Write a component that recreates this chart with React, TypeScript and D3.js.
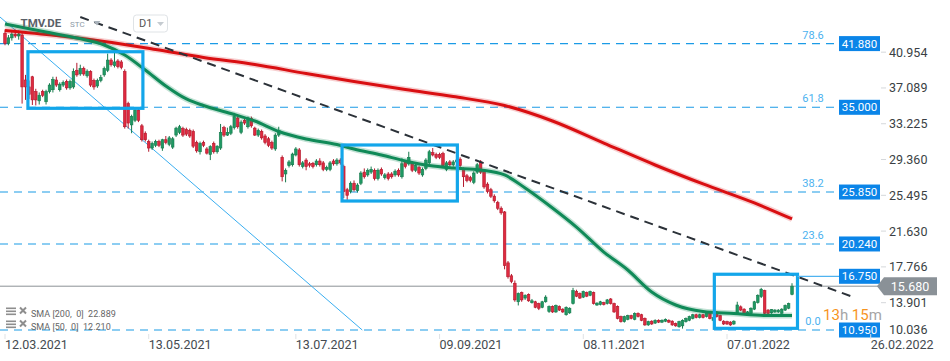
import * as d3 from "d3";

// daily candles TMV.DE, [open, high, low, close], from 12.03.2021
const ohlc: [number, number, number, number][] = [
  [43.0, 43.4, 41.7, 41.9], [41.9, 42.8, 41.7, 42.5], [42.5, 43.2, 42.2, 42.9], [42.9, 43.4, 42.5, 42.7],
  [42.7, 43.3, 42.3, 42.9], [42.8, 43.0, 35.4, 37.2], [37.95, 38.5, 35.8, 37.2], [37.2, 37.9, 35.9, 36.4],
  [38.3, 38.4, 35.25, 35.8], [36.7, 37.0, 35.2, 35.8], [35.7, 36.6, 35.3, 36.3], [36.7, 36.9, 36.1, 36.3],
  [35.6, 36.9, 35.3, 36.7], [36.7, 37.6, 36.5, 37.4], [36.9, 38.3, 36.6, 38.0], [37.95, 38.3, 37.2, 37.4],
  [36.9, 37.7, 36.7, 37.5], [37.4, 37.9, 37.2, 37.7], [37.8, 38.0, 36.9, 37.1], [37.1, 38.0, 36.9, 37.8],
  [37.2, 39.2, 37.0, 38.85], [39.0, 39.8, 38.3, 38.5], [38.6, 39.6, 38.4, 39.2], [39.2, 39.4, 38.4, 38.6],
  [38.4, 39.1, 38.2, 38.9], [38.85, 39.0, 37.2, 37.4], [37.9, 38.1, 36.9, 37.2], [37.3, 38.1, 37.1, 37.9],
  [37.9, 38.5, 37.7, 38.2], [38.5, 39.4, 38.3, 39.2], [39.0, 40.8, 38.8, 40.1], [40.1, 40.3, 39.4, 39.6],
  [39.5, 40.9, 39.3, 39.9], [40.0, 40.2, 39.2, 39.4], [39.9, 40.1, 39.1, 39.3], [38.85, 39.1, 32.7, 32.9],
  [35.4, 35.6, 32.7, 33.3], [33.1, 34.2, 32.2, 34.0], [33.6, 34.9, 33.4, 34.7], [34.7, 34.9, 33.4, 33.6],
  [33.0, 33.2, 31.3, 31.5], [32.2, 32.4, 31.3, 31.5], [31.3, 31.5, 30.2, 30.6], [30.6, 31.3, 30.4, 31.1],
  [30.9, 31.5, 30.7, 31.3], [31.3, 31.5, 30.7, 30.9], [30.6, 31.6, 30.3, 31.5], [31.5, 31.9, 31.0, 31.2],
  [31.0, 31.9, 30.8, 31.7], [30.7, 31.8, 30.5, 31.6], [32.0, 32.9, 31.8, 32.75], [32.3, 33.1, 32.1, 32.9],
  [32.7, 32.9, 31.8, 32.0], [32.6, 32.8, 31.9, 32.1], [32.5, 32.7, 31.7, 31.9], [32.4, 32.6, 30.6, 30.8],
  [31.2, 31.4, 30.1, 30.3], [30.2, 31.3, 29.9, 31.1], [31.2, 31.4, 30.7, 30.9], [30.5, 30.7, 29.9, 30.05],
  [29.9, 30.9, 29.3, 30.75], [31.1, 31.3, 30.0, 30.2], [30.2, 30.9, 30.0, 30.8], [30.6, 33.2, 30.4, 32.3],
  [32.8, 33.0, 31.8, 32.0], [32.0, 32.8, 31.9, 32.3], [32.2, 33.1, 32.0, 32.9], [32.8, 34.4, 32.6, 34.0],
  [33.85, 34.0, 32.7, 32.9], [32.3, 33.6, 32.1, 33.4], [33.6, 33.8, 33.1, 33.3], [32.9, 34.0, 32.7, 33.85],
  [33.8, 34.0, 32.8, 33.0], [32.75, 32.9, 31.9, 32.0], [32.0, 32.7, 31.8, 32.5], [32.4, 32.6, 31.5, 31.7],
  [31.9, 32.1, 31.0, 31.2], [31.6, 31.8, 30.7, 30.9], [31.2, 31.4, 30.4, 30.6], [30.5, 32.2, 30.3, 32.0],
  [32.0, 32.9, 31.8, 32.5], [29.6, 29.8, 27.0, 27.5], [27.8, 28.4, 26.9, 28.2], [28.7, 29.3, 28.5, 29.1],
  [28.8, 30.1, 28.6, 29.95], [29.85, 30.7, 29.7, 30.5], [30.4, 30.6, 28.6, 28.8], [28.6, 29.2, 28.4, 29.0],
  [29.3, 29.5, 28.2, 28.6], [28.9, 29.1, 28.5, 28.75], [28.95, 29.1, 28.4, 28.6], [28.8, 29.4, 28.6, 29.2],
  [29.2, 29.5, 28.6, 28.8], [29.0, 29.2, 28.1, 28.3], [28.3, 28.7, 28.1, 28.5], [28.3, 29.2, 28.1, 29.0],
  [29.2, 29.4, 28.7, 28.9], [28.9, 29.5, 28.7, 29.3], [29.3, 29.5, 28.8, 29.0], [28.6, 28.8, 25.2, 25.9],
  [26.1, 26.3, 25.0, 25.5], [25.9, 27.0, 25.7, 26.8], [26.8, 27.1, 25.9, 26.1], [26.0, 26.8, 25.8, 26.6],
  [26.8, 28.1, 26.6, 27.9], [28.0, 28.4, 27.3, 27.5], [27.7, 28.4, 27.5, 28.2], [28.0, 28.6, 27.8, 28.3],
  [28.2, 28.4, 27.1, 27.3], [27.3, 28.4, 27.1, 28.2], [28.3, 28.5, 27.6, 27.8], [27.4, 27.9, 27.2, 27.7],
  [27.8, 28.0, 27.1, 27.3], [27.8, 28.0, 27.3, 27.5], [27.7, 28.3, 27.5, 28.1], [28.2, 28.4, 27.5, 27.7],
  [27.5, 29.5, 27.3, 28.9], [29.1, 29.3, 28.4, 28.6], [28.9, 30.2, 28.7, 29.6], [29.0, 29.2, 28.0, 28.2],
  [28.2, 28.9, 28.0, 28.7], [28.5, 28.7, 27.7, 27.9], [27.7, 28.5, 27.5, 28.3], [28.4, 29.5, 28.2, 29.3],
  [29.0, 30.4, 28.8, 30.2], [30.1, 30.6, 29.7, 29.85], [29.9, 30.1, 29.4, 29.6], [29.9, 30.1, 29.4, 29.6],
  [30.0, 30.2, 28.5, 28.7], [28.3, 29.2, 28.1, 29.0], [29.1, 29.3, 28.6, 28.8], [28.8, 29.3, 28.6, 29.1],
  [29.1, 29.5, 28.9, 29.3], [29.4, 29.6, 28.5, 28.7], [28.3, 28.5, 26.4, 27.5], [27.6, 27.8, 26.9, 27.1],
  [27.4, 27.6, 26.9, 27.1], [26.9, 28.1, 26.7, 27.9], [28.0, 29.0, 27.8, 28.8], [29.1, 29.3, 27.8, 28.0],
  [28.05, 28.2, 26.2, 26.4], [26.7, 26.9, 25.7, 25.9], [26.1, 26.3, 25.2, 25.4], [25.4, 25.6, 24.7, 24.9],
  [24.7, 24.9, 23.9, 24.1], [24.1, 24.3, 23.4, 23.6], [23.7, 23.8, 17.5, 17.9], [18.2, 18.4, 16.5, 16.7],
  [16.8, 17.0, 16.0, 16.2], [16.0, 16.3, 14.0, 14.2], [14.0, 15.0, 13.6, 14.9], [15.0, 15.1, 14.0, 14.2],
  [14.4, 14.8, 14.2, 14.7], [14.8, 14.9, 14.0, 14.1], [13.9, 14.3, 13.8, 14.1], [14.0, 14.1, 13.3, 13.4],
  [13.8, 13.9, 13.1, 13.3], [13.4, 14.1, 13.3, 14.0], [14.0, 14.7, 13.9, 14.5], [12.95, 13.6, 12.8, 13.5],
  [13.5, 13.6, 12.8, 12.9], [12.9, 13.7, 12.8, 13.6], [13.5, 13.6, 13.0, 13.1], [13.2, 13.3, 12.8, 12.9],
  [12.6, 13.5, 12.5, 13.4], [12.8, 13.4, 12.7, 13.3], [13.8, 15.5, 13.7, 15.2], [15.1, 15.3, 14.5, 14.6],
  [14.9, 15.0, 14.3, 14.4], [14.5, 15.2, 14.4, 15.1], [15.0, 15.1, 14.5, 14.6], [14.7, 15.2, 14.6, 15.1],
  [15.0, 15.1, 13.7, 13.8], [13.65, 13.95, 13.55, 13.85], [13.7, 14.1, 13.6, 14.0], [13.9, 14.0, 13.6, 13.7],
  [13.8, 14.3, 13.7, 14.2], [14.3, 14.4, 13.7, 13.8], [13.8, 13.9, 12.8, 12.9], [13.5, 13.6, 12.1, 12.2],
  [12.4, 12.5, 11.75, 11.85], [11.85, 12.5, 11.75, 12.4], [12.1, 12.6, 12.0, 12.5], [12.5, 12.6, 12.1, 12.2],
  [12.1, 12.85, 12.0, 12.75], [12.75, 12.85, 12.3, 12.4], [12.6, 12.7, 11.9, 12.0], [12.2, 12.3, 11.4, 11.5],
  [11.5, 11.95, 11.4, 11.85], [11.9, 12.0, 11.5, 11.6], [11.7, 12.1, 11.6, 12.0], [12.0, 12.1, 11.7, 11.8],
  [11.8, 12.1, 11.7, 12.0], [11.9, 12.2, 11.8, 12.1], [12.0, 12.1, 11.7, 11.8], [11.9, 12.0, 11.4, 11.5],
  [11.65, 11.75, 11.3, 11.4], [11.3, 11.95, 11.2, 11.85], [11.4, 12.1, 11.1, 12.0], [11.85, 12.3, 11.75, 12.2],
  [12.0, 12.5, 11.9, 12.4], [12.2, 12.7, 12.1, 12.6], [12.6, 12.7, 12.2, 12.3], [12.3, 12.7, 12.2, 12.6],
  [12.6, 12.7, 12.2, 12.3], [12.4, 13.0, 12.3, 12.9], [12.8, 12.9, 12.1, 12.2], [12.0, 12.4, 11.9, 12.3],
  [12.9, 13.0, 12.3, 12.4], [12.5, 12.6, 11.9, 12.0], [11.9, 12.0, 11.5, 11.6], [11.85, 11.95, 11.5, 11.6],
  [11.8, 11.9, 11.4, 11.5], [11.6, 12.0, 11.5, 11.9], [12.8, 14.0, 12.7, 13.65], [13.45, 13.6, 13.0, 13.1],
  [13.2, 13.3, 12.6, 12.7], [12.6, 13.0, 12.5, 12.9], [12.75, 13.4, 12.6, 13.3], [13.2, 14.1, 13.1, 14.0],
  [13.9, 14.8, 13.8, 14.7], [14.55, 15.5, 14.4, 15.35], [15.2, 15.3, 12.6, 12.75], [13.1, 13.2, 12.6, 12.75],
  [12.8, 13.2, 12.7, 13.15], [12.9, 13.2, 12.8, 13.1], [12.9, 13.2, 12.8, 13.1], [12.75, 13.3, 12.7, 13.2],
  [13.1, 13.7, 13.0, 13.6], [13.3, 13.9, 13.2, 13.8], [14.8, 16.0, 14.7, 15.68],
];

// moving averages: [bar, value]
const sma200: [number, number][] = [
  [0, 43.3], [15, 42.75], [29, 42.11], [44, 41.24], [58, 40.38], [73, 39.62], [88, 38.65],
  [102, 37.79], [117, 36.92], [131, 36.17], [146, 35.19], [160, 33.52], [175, 31.14],
  [190, 28.77], [204, 26.72], [219, 24.67], [230, 22.94],
];
const sma50: [number, number][] = [
  [0, 43.99], [12, 43.13], [21, 42.48], [29, 41.73], [35, 40.65], [41, 39.03], [47, 37.3],
  [53, 35.9], [58, 35.19], [66, 34.33], [73, 33.52], [80, 32.39], [88, 31.58], [97, 30.98],
  [102, 30.5], [110, 29.85], [117, 29.2], [124, 28.71], [131, 28.44], [139, 28.23], [146, 27.69],
  [152, 26.29], [160, 24.13], [167, 22.07], [175, 19.37], [182, 17.43], [189, 15.05], [196, 13.65],
  [204, 12.95], [213, 12.73], [222, 12.52], [230, 12.52],
];

const dateTicks = ["12.03.2021", "13.05.2021", "13.07.2021", "09.09.2021", "08.11.2021", "07.01.2022", "26.02.2022"];
const dateTickBars = [0, 42, 85, 127, 169, 211, 253];
const priceTicks = [40.954, 37.089, 33.225, 29.36, 25.495, 21.63, 17.766, 13.901, 10.036];

const fibRatios = ["78.6", "61.8", "38.2", "23.6", "0.0"];
const fibPrices = [41.88, 35.0, 25.85, 20.24, 10.95];
const levelPrices = [41.88, 35.0, 25.85, 20.24, 16.75, 10.95];
const lastPrice = 15.68;

// drawn rectangles [bar0, bar1, priceTop, priceBottom]
const zones: [number, number, number, number][] = [
  [6.7, 40.3, 41.0, 34.89],
  [98.5, 132.2, 30.93, 24.88],
  [207.3, 231.6, 16.97, 11.13],
];
const trendDashed: [number, number][] = [[22, 44.75], [248, 14.5]];
const trendBlue: [number, number][] = [[-1.46, 44.75], [104.4, 10.95]];
const legend = ["SMA [200,  0]  22.889", "SMA [50,  0]  12.210"];

const font = "Roboto, 'Noto Sans', sans-serif";

export default function App() {
  const x = d3.scaleLinear().domain([0, 211]).range([5, 727]);
  const y = d3.scaleLinear().domain([10.95, 35]).range([330, 107.3]);
  const bw = 2.6;

  const line = d3
    .line<[number, number]>()
    .x((d) => x(d[0]))
    .y((d) => y(d[1]))
    .curve(d3.curveMonotoneX);

  const up = { fill: "#1f9963", stroke: "#167a4d" };
  const down = { fill: "#df2a40", stroke: "#b3182c" };
  const lastY = y(lastPrice);

  return (
    <svg
      width={950}
      height={361}
      style={{ position: "absolute", left: 0, top: 0, background: "#fff" }}
      fontFamily={font}
    >
      <defs>
        <clipPath id="plot">
          <rect x={0} y={0} width={880} height={334} />
        </clipPath>
      </defs>

      {/* fibonacci levels */}
      {fibPrices.map((p, i) => (
        <g key={"f" + i}>
          <line x1={0} x2={838} y1={y(p)} y2={y(p)} stroke="#1b9be6" strokeWidth={1.1} strokeDasharray="8,6" />
          <text x={813} y={y(p) - 8.5} fill="#4cb2ef" fontSize={11} textAnchor="middle" dominantBaseline="central">
            {fibRatios[i]}
          </text>
        </g>
      ))}

      {/* current price line */}
      <line x1={0} x2={878} y1={lastY} y2={lastY} stroke="#8c9196" strokeWidth={1} />

      <g clipPath="url(#plot)">
        <line
          x1={x(trendBlue[0][0])} y1={y(trendBlue[0][1])}
          x2={x(trendBlue[1][0])} y2={y(trendBlue[1][1])}
          stroke="#3aaef0" strokeWidth={1}
        />

        {/* candles */}
        {ohlc.map(([o, h, l, c], i) => {
          const col = c >= o ? up : down;
          const cx = x(i);
          const top = y(Math.max(o, c));
          const bh = Math.max(1, y(Math.min(o, c)) - top);
          return (
            <g key={i}>
              <line x1={cx} x2={cx} y1={y(h)} y2={y(l)} stroke={col.stroke} strokeWidth={1} />
              <rect x={cx - bw / 2} y={top} width={bw} height={bh} fill={col.fill} stroke={col.stroke} strokeWidth={0.6} />
            </g>
          );
        })}

        <path d={line(sma200) ?? undefined} fill="none" stroke="#d90f12" strokeOpacity={0.2} strokeWidth={6} />
        <path d={line(sma200) ?? undefined} fill="none" stroke="#d90f12" strokeWidth={3} />
        <path d={line(sma50) ?? undefined} fill="none" stroke="#108a58" strokeOpacity={0.25} strokeWidth={6} />
        <path d={line(sma50) ?? undefined} fill="none" stroke="#108a58" strokeWidth={3} />

        <line
          x1={x(trendDashed[0][0])} y1={y(trendDashed[0][1])}
          x2={x(trendDashed[1][0])} y2={y(trendDashed[1][1])}
          stroke="#2b3138" strokeWidth={2} strokeDasharray="9,6"
        />

        {zones.map((z, i) => (
          <rect
            key={"z" + i}
            x={x(z[0])} y={y(z[2])}
            width={x(z[1]) - x(z[0])} height={y(z[3]) - y(z[2])}
            fill="none" stroke="#13a6ea" strokeWidth={3.2}
          />
        ))}
      </g>

      {/* horizontal line from last zone to the 16.750 level */}
      <line x1={x(zones[2][1])} x2={839} y1={y(16.75)} y2={y(16.75)} stroke="#4fb3f0" strokeWidth={1.3} />

      {/* level boxes */}
      {levelPrices.map((p, i) => (
        <g key={"l" + i}>
          <rect x={839} y={y(p) - 7.5} width={41} height={15} fill="#0b85e8" />
          <text x={859.5} y={y(p)} fill="#fff" fontSize={11.5} textAnchor="middle" dominantBaseline="central">
            {p.toFixed(3)}
          </text>
        </g>
      ))}

      {/* right axis */}
      {priceTicks.map((p, i) => {
        const ty = Math.min(y(p), 329.5);
        return (
          <g key={"t" + i}>
            {y(p) < 328 && <line x1={881} x2={886} y1={ty} y2={ty} stroke="#d5d8db" />}
            <text x={889} y={ty} fill="#3a3f44" fontSize={12.5} dominantBaseline="central">
              {p.toFixed(3)}
            </text>
          </g>
        );
      })}

      {/* last price tag */}
      <path
        d={`M877,${lastY} L884,${lastY - 9} L937,${lastY - 9} L937,${lastY + 9} L884,${lastY + 9} Z`}
        fill="#8a9197"
      />
      <text x={910} y={lastY} fill="#fff" fontSize={12.5} textAnchor="middle" dominantBaseline="central">
        {lastPrice.toFixed(3)}
      </text>

      {/* countdown */}
      <text x={823} y={320} fontSize={15}>
        <tspan fill="#f7941e">13</tspan>
        <tspan fill="#a5a5a5">h </tspan>
        <tspan fill="#f7941e">15</tspan>
        <tspan fill="#a5a5a5">m</tspan>
      </text>

      {/* date axis */}
      {dateTicks.map((d, i) => {
        const tx = x(dateTickBars[i]);
        return (
          <g key={"d" + i}>
            <line x1={tx} x2={tx} y1={334} y2={339} stroke="#dfe2e5" />
            <text x={tx} y={344} fill="#444a50" fontSize={12.5} dominantBaseline="central">
              {d}
            </text>
          </g>
        );
      })}

      {/* legend */}
      {legend.map((t, i) => {
        const ly = 313.5 + i * 13;
        return (
          <g key={"g" + i} fill="#8e8e8e">
            <rect x={6} y={ly - 6} width={10} height={1.6} />
            <rect x={6} y={ly - 3} width={10} height={1.6} />
            <rect x={6} y={ly} width={10} height={1.6} />
            <path d={`M20,${ly - 6} l6,6 M26,${ly - 6} l-6,6`} stroke="#8e8e8e" strokeWidth={2} />
            <text x={31} y={ly + 0.5} fill="#666" fontSize={9} dominantBaseline="central" style={{ whiteSpace: "pre" }}>
              {t}
            </text>
          </g>
        );
      })}

      {/* header */}
      <text x={20.5} y={23} fill="#5a6068" fontSize={11.5} fontWeight="bold" dominantBaseline="central">
        TMV.DE
      </text>
      <text x={70} y={24} fill="#8d9aa6" fontSize={8} dominantBaseline="central">
        STC
      </text>
      <path d="M93.5,21 L100.5,21 L97,25.5 Z" fill="#a9b2ba" />
      <rect x={133.5} y={15} width={34} height={17} rx={3} fill="#fff" stroke="#dfe3e6" />
      <text x={139} y={23.5} fill="#555" fontSize={11} dominantBaseline="central">
        D1
      </text>
      <path d="M157,22 L164,22 L160.5,26 Z" fill="#c5cbd0" />
    </svg>
  );
}
